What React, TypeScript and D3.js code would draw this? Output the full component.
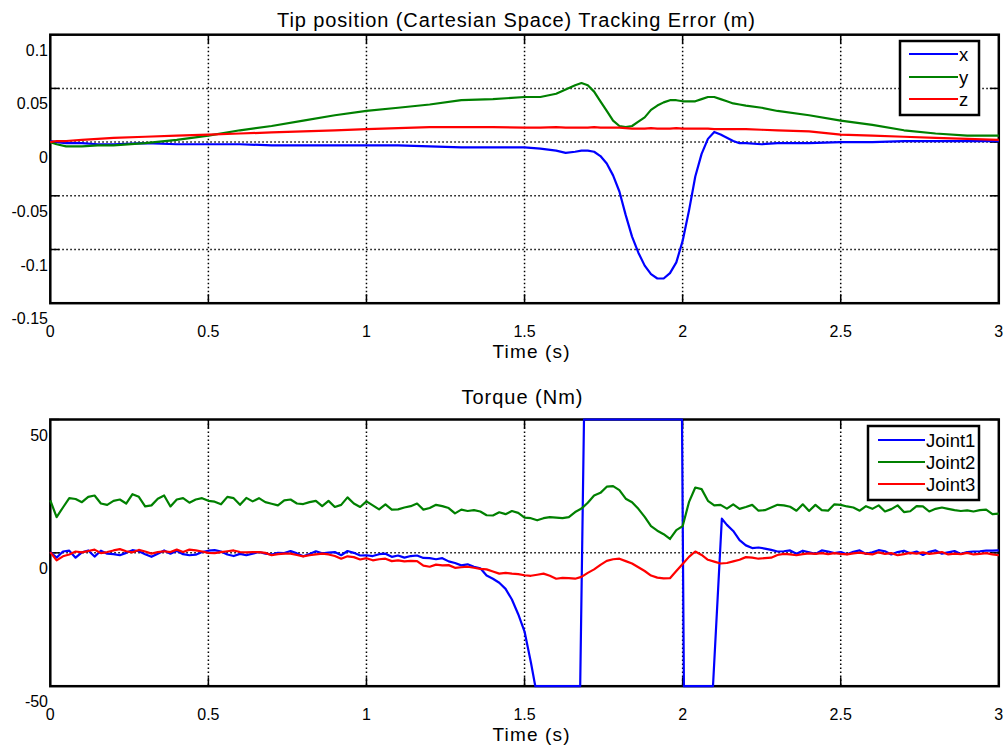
import React, { useEffect } from 'react';
import * as d3 from 'd3';

// ---------- Data ----------
const xTicks = [0, 0.5, 1, 1.5, 2, 2.5, 3];
const xTickLabels = ['0', '0.5', '1', '1.5', '2', '2.5', '3'];

const posYTicks = [0.1, 0.05, 0, -0.05, -0.1, -0.15];
const posYTickLabels = ['0.1', '0.05', '0', '-0.05', '-0.1', '-0.15'];
const torqueYTicks = [50, 0, -50];
const torqueYTickLabels = ['50', '0', '-50'];

const posTime = [
  0, 0.02, 0.05, 0.1, 0.15, 0.2,
  0.3, 0.4, 0.5, 0.6, 0.7, 0.8, 0.9, 1.0, 1.1, 1.2, 1.3, 1.4, 1.5,
  1.55, 1.6, 1.63, 1.66, 1.68,
  1.7, 1.72, 1.74, 1.76, 1.78, 1.8, 1.82, 1.84, 1.86, 1.88, 1.9, 1.92, 1.94, 1.96, 1.98,
  2.0, 2.02, 2.04, 2.06, 2.08, 2.1, 2.12, 2.14, 2.16, 2.18, 2.2,
  2.25, 2.3,
  2.4, 2.5, 2.6, 2.7, 2.8, 2.9, 3.0,
];
const posX = [
  0.001, 0.0, -0.001, -0.001, -0.002, -0.002,
  -0.001, -0.002, -0.002, -0.002, -0.003, -0.003, -0.003, -0.003, -0.003, -0.004, -0.005, -0.005, -0.005,
  -0.006, -0.008, -0.010, -0.009, -0.008,
  -0.008, -0.009, -0.013, -0.020, -0.031, -0.046, -0.068, -0.088, -0.103, -0.115, -0.123, -0.127, -0.127, -0.122, -0.112,
  -0.092, -0.064, -0.032, -0.011, 0.003, 0.0095, 0.007, 0.004, 0.001, -0.001, -0.001,
  -0.002, -0.001,
  -0.001, 0.0, 0.0, 0.001, 0.001, 0.001, 0.001,
];
const posY = [
  0.0, -0.002, -0.004, -0.004, -0.003, -0.003,
  -0.001, 0.002, 0.006, 0.011, 0.015, 0.020, 0.025, 0.029, 0.032, 0.035, 0.039, 0.040, 0.042,
  0.042, 0.045, 0.049, 0.053, 0.055,
  0.053, 0.047, 0.038, 0.029, 0.020, 0.015, 0.014, 0.015, 0.019, 0.023, 0.030, 0.034, 0.037, 0.039, 0.039,
  0.038, 0.038, 0.038, 0.040, 0.042, 0.042, 0.040, 0.038, 0.036, 0.035, 0.034,
  0.032, 0.029,
  0.025, 0.020, 0.016, 0.011, 0.008, 0.006, 0.006,
];
const posZ = [
  0.0, 0.001, 0.001, 0.002, 0.003, 0.004,
  0.005, 0.006, 0.007, 0.008, 0.009, 0.010, 0.011, 0.012, 0.013, 0.014, 0.014, 0.014, 0.0135,
  0.0135, 0.014, 0.0135, 0.0135, 0.0135,
  0.0135, 0.014, 0.0135, 0.0135, 0.0135, 0.0135, 0.013, 0.0125, 0.0125, 0.0125, 0.013, 0.0125, 0.0125, 0.0125, 0.013,
  0.0125, 0.0125, 0.0125, 0.0125, 0.0125, 0.012, 0.012, 0.012, 0.012, 0.012, 0.012,
  0.0115, 0.011,
  0.010, 0.007, 0.006, 0.005, 0.004, 0.003, 0.002,
];

// torque sampled every 0.02 s
const torqueTime = d3.range(151).map((i) => i * 0.02);
const joint2 = [
  19.7, 13.4, 17.0, 20.5, 20.2, 19.0, 21.0, 21.5, 18.5, 18.0,
  19.5, 20.0, 18.5, 22.0, 21.0, 17.4, 17.8, 20.3, 21.5, 17.4,
  20.0, 20.5, 18.8, 20.0, 20.5, 19.5, 19.2, 18.2, 21.0, 20.5,
  18.0, 20.6, 19.3, 20.5, 19.0, 18.4, 17.8, 19.7, 20.0, 18.5,
  18.3, 19.0, 19.5, 17.5, 19.5, 17.2, 18.0, 20.8, 18.5, 17.2,
  19.3, 17.8, 16.3, 18.2, 16.2, 16.3, 17.0, 17.5, 18.5, 16.2,
  16.8, 18.0, 17.5, 16.8, 14.8, 16.2, 15.7, 16.0, 15.5, 14.1,
  14.0, 15.2, 14.5, 15.7, 15.0, 13.2, 13.0, 12.2, 13.0, 13.4,
  13.2, 13.0, 13.4, 15.3, 16.6, 18.8, 21.5, 22.5, 24.8, 25.0,
  23.5, 20.3, 19.0, 16.5, 13.5, 10.0, 8.3, 7.0, 5.2, 8.5,
  10.0, 19.0, 24.5, 23.9, 19.5, 17.8, 18.0, 16.6, 18.2, 16.5,
  17.2, 18.0, 15.8, 16.0, 17.0, 18.0, 17.8, 17.3, 15.8, 18.2,
  15.7, 18.0, 16.0, 15.8, 18.2, 18.0, 17.4, 17.0, 15.8, 17.5,
  16.5, 17.8, 15.5, 16.4, 17.8, 15.3, 15.6, 17.5, 17.4, 15.5,
  16.5, 17.0, 16.5, 16.0, 15.7, 15.9, 15.5, 16.0, 16.2, 14.5,
  14.7,
];
const joint3 = [
  0.3, -2.8, -1.3, -0.6, 0.5, 0.2, 0.7, 1.2, -0.1, 0.3,
  0.9, 1.4, 0.6, 0.2, 1.1, 0.5, -0.3, 0.3, 0.6, 0.3,
  1.2, 0.3, 1.2, 0.9, 0.5, 0.0, -0.1, 0.3, 0.6, 0.9,
  0.3, 0.2, 0.3, 0.3, 0.0, -0.9, -0.5, -0.3, -0.3, -0.8,
  -1.3, -0.9, -0.6, -0.3, -0.6, -1.2, -2.2, -1.3, -1.6, -2.5,
  -2.0, -2.8, -2.4, -2.2, -3.1, -2.8, -3.2, -3.0, -3.1, -4.8,
  -5.2, -4.4, -4.7, -4.6, -5.6, -5.4, -5.2, -5.6, -6.0, -6.2,
  -7.0, -7.8, -7.5, -7.8, -8.0, -8.4, -8.6, -8.2, -7.8, -8.6,
  -9.7, -9.4, -9.5, -9.7, -9.0, -7.5, -6.2, -4.5, -3.0, -2.4,
  -2.2, -3.1, -4.0, -5.4, -6.8, -8.5, -9.3, -9.6, -9.5, -6.8,
  -4.2, -1.5, 0.5, -0.8, -2.6, -3.3, -4.0, -3.8, -3.2, -2.6,
  -1.6, -1.8, -2.2, -2.0, -1.8, -0.8, -0.4, -0.6, -0.9, -0.5,
  -0.2, -0.4, -0.1, -0.5, -0.1, -0.4, -0.6, -0.2, 0.1, -0.3,
  -0.6, 0.2, -0.4, -0.1, -0.9, -0.5, 0.0, -0.3, 0.2, -0.4,
  -0.1, 0.3, -0.6, -0.3, -0.5, 0.0, -0.6, -0.4, -0.1, -0.6,
  -0.9,
];

// Joint1 has saturated jumps, so it keeps its own (irregular) time stamps
const joint1Time = [
  ...d3.range(77).map((i) => i * 0.02),
  1.534, 1.676, 1.688, 1.998, 2.004, 2.096, 2.124,
  ...d3.range(44).map((i) => 2.14 + i * 0.02),
];
const joint1 = [
  0.3, -1.8, 0.5, 0.8, -1.8, 0.2, 0.9, -1.4, 0.8, -0.3,
  -0.5, -0.9, 0.0, 1.0, 0.6, -0.5, -1.5, -0.3, 0.9, -0.3,
  0.8, -0.5, -0.9, -0.7, 0.3, 0.8, 1.0, 0.5, -0.6, -1.2,
  -0.4, -0.9, -0.3, 0.3, -0.3, -0.6, 0.0, -0.1, 0.7, -0.2,
  -1.3, -0.4, 0.6, -0.2, 0.1, 0.3, -0.9, 0.7, 0.0, -1.0,
  -0.9, -1.2, -0.5, -0.3, -1.5, -1.0, -1.8, -1.2, -1.0, -1.9,
  -2.0, -2.4, -2.0, -3.2, -3.8, -4.7, -4.3, -5.2, -5.8, -8.5,
  -9.7, -11.2, -13.5, -17.5, -23.0, -29.5, -41.0,
  -50, -50, 50, 50, -50, -50, 12.8,
  10.5, 8.2, 4.8, 2.8, 1.8, 2.0, 1.6, 1.1, 0.5,
  0.6, 0.9, -0.3, 0.8, 0.2, -0.4, 0.9, 0.5, -0.1, 0.3,
  -0.5, 0.4, 0.9, -0.4, 0.2, 1.0, 0.6, -0.6, 0.3, 0.8,
  -0.2, 0.5, -0.8, 0.4, 0.9, -0.3, 0.2, 0.7, -0.4, 0.3,
  0.5, 0.6, 0.8, 0.8, 0.9,
];

const posNames = ['x', 'y', 'z'];
const torqueNames = ['Joint1', 'Joint2', 'Joint3'];
const seriesColors = ['#0000ff', '#008000', '#ff0000'];

// ---------- Drawing ----------
const FONT = '"Liberation Sans", Arial, Helvetica, sans-serif';

type Series = { t: number[]; v: number[]; color: string };
type Box = { left: number; right: number; top: number; bottom: number };
type Legend = { x: number; y: number; w: number; h: number; lx1: number; lx2: number; rows: number[]; names: string[] };

function Panel(props: {
  box: Box;
  yDomain: [number, number];
  yTicks: number[];
  yTickLabels: string[];
  gridY: number[];
  series: Series[];
  title: string;
  titleX: number;
  titleY: number;
  titleW: number;
  xlabelX: number;
  legend: Legend;
}) {
  const { box, yDomain, yTicks, yTickLabels, gridY, series, title, titleX, titleY, titleW, xlabelX, legend } = props;
  const x = d3.scaleLinear().domain([0, 3]).range([box.left, box.right]);
  const y = d3.scaleLinear().domain(yDomain).range([box.bottom, box.top]);
  const tickLen = 9;
  const gridX = xTicks.filter((t) => t > 0 && t < 3);

  return (
    <g>
      {gridX.map((t) => (
        <line key={'gx' + t} x1={x(t)} x2={x(t)} y1={box.top} y2={box.bottom}
          stroke="#000" strokeWidth={1.5} strokeDasharray="1.5,2.5" />
      ))}
      {gridY.map((v) => (
        <line key={'gy' + v} x1={box.left} x2={box.right} y1={y(v)} y2={y(v)}
          stroke="#000" strokeWidth={1.5} strokeDasharray="1.5,2.5" />
      ))}
      {gridX.map((t) => (
        <g key={'tx' + t}>
          <line x1={x(t)} x2={x(t)} y1={box.top} y2={box.top + tickLen} stroke="#000" strokeWidth={1.5} />
          <line x1={x(t)} x2={x(t)} y1={box.bottom} y2={box.bottom - tickLen} stroke="#000" strokeWidth={1.5} />
        </g>
      ))}
      {yTicks.map((v) => (
        <g key={'ty' + v}>
          <line x1={box.left} x2={box.left + tickLen} y1={y(v)} y2={y(v)} stroke="#000" strokeWidth={1.5} />
          <line x1={box.right} x2={box.right - tickLen} y1={y(v)} y2={y(v)} stroke="#000" strokeWidth={1.5} />
        </g>
      ))}
      <rect x={box.left} y={box.top} width={box.right - box.left} height={box.bottom - box.top}
        fill="none" stroke="#000" strokeWidth={2.5} />
      {series.map((s, k) => {
        const line = d3.line<number>().x((_, i) => x(s.t[i])).y((d) => y(d));
        return <path key={'s' + k} d={line(s.v) || ''} fill="none" stroke={s.color} strokeWidth={2.2} strokeLinejoin="round" />;
      })}
      {yTicks.map((v, i) => (
        <text key={'yl' + v} x={48} y={y(v) + 21} textAnchor="end" fontSize={16} fontFamily={FONT} fill="#000">
          {yTickLabels[i]}
        </text>
      ))}
      {xTicks.map((t, i) => (
        <text key={'xl' + t} x={x(t)} y={box.bottom + 34} textAnchor="middle" fontSize={16} fontFamily={FONT} fill="#000">
          {xTickLabels[i]}
        </text>
      ))}
      <text x={titleX} y={titleY} textAnchor="middle" fontSize={20} fontFamily={FONT} fill="#000"
        textLength={titleW} lengthAdjust="spacing">{title}</text>
      <text x={xlabelX} y={box.bottom + 55} textAnchor="middle" fontSize={19} fontFamily={FONT} fill="#000"
        textLength={77} lengthAdjust="spacing">Time (s)</text>
      <rect x={legend.x} y={legend.y} width={legend.w} height={legend.h} fill="#fff" stroke="#000" strokeWidth={2.5} />
      {legend.names.map((n, i) => (
        <g key={'lg' + n}>
          <line x1={legend.lx1} x2={legend.lx2} y1={legend.rows[i]} y2={legend.rows[i]} stroke={seriesColors[i]} strokeWidth={2} />
          <text x={legend.lx2 + 1} y={legend.rows[i] + 7} fontSize={18.5} fontFamily={FONT} fill="#000">{n}</text>
        </g>
      ))}
    </g>
  );
}

export default function App() {
  useEffect(() => {
    document.body.style.margin = '0';
    document.body.style.overflow = 'hidden';
  }, []);

  const topBox: Box = { left: 50.3, right: 998.8, top: 34.7, bottom: 303.2 };
  const botBox: Box = { left: 50.3, right: 998.8, top: 419.5, bottom: 686.2 };

  const posSeries: Series[] = [
    { t: posTime, v: posX, color: seriesColors[0] },
    { t: posTime, v: posY, color: seriesColors[1] },
    { t: posTime, v: posZ, color: seriesColors[2] },
  ];
  const torqueSeries: Series[] = [
    { t: joint1Time, v: joint1, color: seriesColors[0] },
    { t: torqueTime, v: joint2, color: seriesColors[1] },
    { t: torqueTime, v: joint3, color: seriesColors[2] },
  ];

  return (
    <svg width={1008} height={749} style={{ position: 'absolute', left: 0, top: 0, display: 'block', background: '#fff' }}>
      <rect x={0} y={0} width={1008} height={749} fill="#fff" />
      <Panel
        box={topBox}
        yDomain={[-0.15, 0.1]}
        yTicks={posYTicks}
        yTickLabels={posYTickLabels}
        gridY={[0.05, 0, -0.05, -0.1]}
        series={posSeries}
        title="Tip position (Cartesian Space) Tracking Error (m)"
        titleX={516}
        titleY={27}
        titleW={478}
        xlabelX={531}
        legend={{ x: 900, y: 41, w: 79, h: 74, lx1: 909, lx2: 958, rows: [54, 77, 99], names: posNames }}
      />
      <Panel
        box={botBox}
        yDomain={[-50, 50]}
        yTicks={torqueYTicks}
        yTickLabels={torqueYTickLabels}
        gridY={[0]}
        series={torqueSeries}
        title="Torque (Nm)"
        titleX={522}
        titleY={404}
        titleW={121}
        xlabelX={531}
        legend={{ x: 868, y: 426, w: 111, h: 74, lx1: 878, lx2: 925, rows: [440, 462, 484], names: torqueNames }}
      />
    </svg>
  );
}
